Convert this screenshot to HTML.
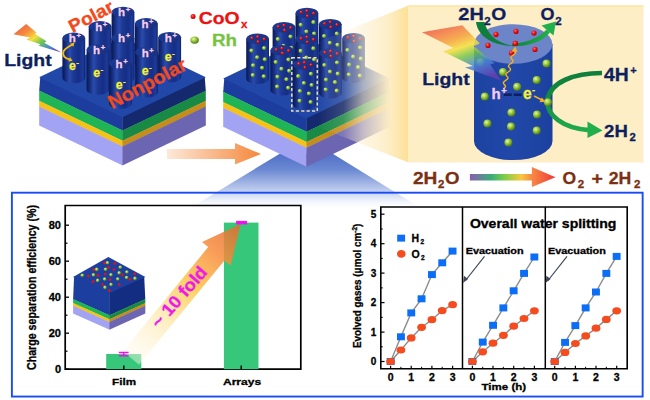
<!DOCTYPE html><html><head><meta charset="utf-8"><style>html,body{margin:0;padding:0;background:#fff;overflow:hidden}svg{display:block}</style></head><body>
<svg width="650" height="400" viewBox="0 0 650 400">

<defs>
 <linearGradient id="cylG" x1="0" x2="1" y1="0" y2="0">
  <stop offset="0" stop-color="#0a1850"/>
  <stop offset="0.12" stop-color="#142a78"/>
  <stop offset="0.32" stop-color="#2a4cae"/>
  <stop offset="0.47" stop-color="#1d3994"/>
  <stop offset="0.72" stop-color="#152e86"/>
  <stop offset="0.9" stop-color="#1d3b9a"/>
  <stop offset="1" stop-color="#102470"/>
 </linearGradient>
 <linearGradient id="cylT" x1="0" x2="1" y1="0" y2="1">
  <stop offset="0" stop-color="#1d3c96"/>
  <stop offset="1" stop-color="#17307f"/>
 </linearGradient>
 <linearGradient id="boltG1" x1="0" y1="0.1" x2="1" y2="0.9">
  <stop offset="0" stop-color="#f05a44"/>
  <stop offset="0.25" stop-color="#f58a3e"/>
  <stop offset="0.45" stop-color="#f4e040"/>
  <stop offset="0.62" stop-color="#6cc450"/>
  <stop offset="0.8" stop-color="#4a8ad8"/>
  <stop offset="1" stop-color="#6a3cb0"/>
 </linearGradient>
 <linearGradient id="boltG" x1="0.25" y1="0" x2="0.75" y2="1">
  <stop offset="0" stop-color="#f05a44"/>
  <stop offset="0.12" stop-color="#f27a46"/>
  <stop offset="0.27" stop-color="#f6a23e"/>
  <stop offset="0.42" stop-color="#f4e040"/>
  <stop offset="0.57" stop-color="#72c44e"/>
  <stop offset="0.74" stop-color="#4a8ad8"/>
  <stop offset="1" stop-color="#6a3cb0"/>
 </linearGradient>
 <linearGradient id="orArrow" x1="0" x2="1" y1="0" y2="0">
  <stop offset="0" stop-color="#fde9da"/>
  <stop offset="1" stop-color="#f5873a"/>
 </linearGradient>
 <linearGradient id="beam" gradientUnits="userSpaceOnUse" x1="0" x2="0" y1="152" y2="210">
  <stop offset="0" stop-color="#4e6ec8"/>
  <stop offset="0.3" stop-color="#6a88d2"/>
  <stop offset="0.68" stop-color="#c4d0ef"/>
  <stop offset="0.8" stop-color="#e4eaf8"/>
  <stop offset="1" stop-color="#ffffff" stop-opacity="0"/>
 </linearGradient>
 <linearGradient id="fr" gradientUnits="userSpaceOnUse" x1="318" x2="408.5" y1="0" y2="0">
  <stop offset="0" stop-color="#fdf0d0" stop-opacity="0"/>
  <stop offset="0.28" stop-color="#fdf0d0" stop-opacity="0.15"/>
  <stop offset="0.5" stop-color="#fdf0d0" stop-opacity="0.62"/>
  <stop offset="0.65" stop-color="#fdefcc" stop-opacity="0.82"/>
  <stop offset="0.77" stop-color="#fdeec6" stop-opacity="0.97"/>
  <stop offset="1" stop-color="#fde096" stop-opacity="1"/>
 </linearGradient>
 <linearGradient id="eqArrow" x1="0" x2="1" y1="0" y2="0">
  <stop offset="0" stop-color="#8a5cb2"/>
  <stop offset="0.25" stop-color="#3aae78"/>
  <stop offset="0.4" stop-color="#7ccc48"/>
  <stop offset="0.6" stop-color="#f8c840"/>
  <stop offset="0.72" stop-color="#f88a44"/>
  <stop offset="1" stop-color="#f03838"/>
 </linearGradient>
 <linearGradient id="greenArc" gradientUnits="userSpaceOnUse" x1="0" x2="0" y1="73" y2="135">
  <stop offset="0" stop-color="#0f7f3c"/>
  <stop offset="0.45" stop-color="#138c42"/>
  <stop offset="1" stop-color="#22b04e"/>
 </linearGradient>
 <linearGradient id="greenArr" x1="0" x2="1" y1="0" y2="0">
  <stop offset="0" stop-color="#0f7f3c"/>
  <stop offset="1" stop-color="#25b04c"/>
 </linearGradient>
 <linearGradient id="foldG" gradientUnits="userSpaceOnUse" x1="127" y1="357" x2="241" y2="224">
  <stop offset="0" stop-color="#fffaf0" stop-opacity="0.5"/>
  <stop offset="0.3" stop-color="#fdeab0" stop-opacity="0.9"/>
  <stop offset="0.55" stop-color="#fcc848"/>
  <stop offset="0.78" stop-color="#f88c3c"/>
  <stop offset="1" stop-color="#e06a30"/>
 </linearGradient>
 <radialGradient id="gdot" cx="0.38" cy="0.35" r="0.65">
  <stop offset="0" stop-color="#eaf8a8"/>
  <stop offset="0.45" stop-color="#9ccc40"/>
  <stop offset="1" stop-color="#4c7c16"/>
 </radialGradient>
 <radialGradient id="rdot" cx="0.38" cy="0.35" r="0.65">
  <stop offset="0" stop-color="#ff7070"/>
  <stop offset="0.5" stop-color="#f01010"/>
  <stop offset="1" stop-color="#b00000"/>
 </radialGradient>
 <linearGradient id="bigCyl" x1="0" x2="1" y1="0" y2="0">
  <stop offset="0" stop-color="#1c42a2"/>
  <stop offset="0.5" stop-color="#2148a8"/>
  <stop offset="1" stop-color="#1b40a0"/>
 </linearGradient>
</defs>

<rect width="650" height="400" fill="#ffffff"/>
<polygon points="281,153 331.5,153 424,210 187,210" fill="url(#beam)"/>
<polygon points="40.3,76.7 122.7,116.2 122.7,130.8 39.2,90.8" fill="#1c3d9e"/>
<polygon points="122.4,116.2 204.7,76.8 205.8,90.9 122.4,130.8" fill="#14296e"/>
<polygon points="39.2,90.5 122.7,130.5 122.7,141.0 39.2,101.0" fill="#1fb455"/>
<polygon points="122.4,130.5 205.8,90.6 205.8,101.1 122.4,141.0" fill="#188a46"/>
<polygon points="39.2,100.7 122.7,140.7 122.7,146.8 39.2,106.8" fill="#f7c218"/>
<polygon points="122.4,140.7 205.8,100.8 205.8,106.9 122.4,146.8" fill="#c48d1c"/>
<polygon points="39.2,106.5 122.7,146.5 122.7,165.5 39.2,125.5" fill="#a3a3f4"/>
<polygon points="122.4,146.5 205.8,106.6 205.8,125.6 122.4,165.5" fill="#6b65b2"/>
<polygon points="39.2,77.2 122.4,117.2 205.8,77.3 122.6,37.3" fill="#2148a8"/>
<path d="M111.6,12.1 L111.6,52.0 A11.4,5.3 0 0 0 134.4,52.0 L134.4,12.1 Z" fill="url(#cylG)"/>
<ellipse cx="123.0" cy="12.1" rx="11.4" ry="5.3" fill="url(#cylT)"/>
<text x="118.1" y="16.2" font-family="Liberation Sans, Arial, sans-serif" font-weight="bold" font-size="11.5" fill="#f6cdf0" stroke="#f6cdf0" stroke-width="0.3">h<tspan font-size="7.5" dx="0.6" dy="-4">+</tspan></text>
<path d="M134.9,23.4 L134.9,63.4 A11.4,5.3 0 0 0 157.8,63.4 L157.8,23.4 Z" fill="url(#cylG)"/>
<ellipse cx="146.3" cy="23.4" rx="11.4" ry="5.3" fill="url(#cylT)"/>
<text x="141.4" y="27.6" font-family="Liberation Sans, Arial, sans-serif" font-weight="bold" font-size="11.5" fill="#f6cdf0" stroke="#f6cdf0" stroke-width="0.3">h<tspan font-size="7.5" dx="0.6" dy="-4">+</tspan></text>
<path d="M88.7,26.4 L88.7,66.4 A11.4,5.3 0 0 0 111.5,66.4 L111.5,26.4 Z" fill="url(#cylG)"/>
<ellipse cx="100.1" cy="26.4" rx="11.4" ry="5.3" fill="url(#cylT)"/>
<text x="95.2" y="30.6" font-family="Liberation Sans, Arial, sans-serif" font-weight="bold" font-size="11.5" fill="#f6cdf0" stroke="#f6cdf0" stroke-width="0.3">h<tspan font-size="7.5" dx="0.6" dy="-4">+</tspan></text>
<path d="M158.2,37.3 L158.2,77.3 A11.4,5.3 0 0 0 181.1,77.3 L181.1,37.3 Z" fill="url(#cylG)"/>
<ellipse cx="169.7" cy="37.3" rx="11.4" ry="5.3" fill="url(#cylT)"/>
<text x="164.8" y="41.5" font-family="Liberation Sans, Arial, sans-serif" font-weight="bold" font-size="11.5" fill="#f6cdf0" stroke="#f6cdf0" stroke-width="0.3">h<tspan font-size="7.5" dx="0.6" dy="-4">+</tspan></text>
<text x="164.8" y="60.8" font-family="Liberation Sans, Arial, sans-serif" font-weight="bold" font-size="12.3" fill="#f6f232" stroke="#f6f232" stroke-width="0.3">e<tspan font-size="8" dx="0.4" dy="-5">-</tspan></text>
<path d="M62.4,37.9 L62.4,77.9 A11.4,5.3 0 0 0 85.2,77.9 L85.2,37.9 Z" fill="url(#cylG)"/>
<ellipse cx="73.8" cy="37.9" rx="11.4" ry="5.3" fill="url(#cylT)"/>
<text x="68.8" y="42.1" font-family="Liberation Sans, Arial, sans-serif" font-weight="bold" font-size="11.5" fill="#f6cdf0" stroke="#f6cdf0" stroke-width="0.3">h<tspan font-size="7.5" dx="0.6" dy="-4">+</tspan></text>
<text x="69.0" y="69.5" font-family="Liberation Sans, Arial, sans-serif" font-weight="bold" font-size="12.3" fill="#f6f232" stroke="#f6f232" stroke-width="0.3">e<tspan font-size="8" dx="0.4" dy="-5">-</tspan></text>
<path d="M111.5,38.2 L111.5,78.2 A11.4,5.3 0 0 0 134.3,78.2 L134.3,38.2 Z" fill="url(#cylG)"/>
<ellipse cx="122.9" cy="38.2" rx="11.4" ry="5.3" fill="url(#cylT)"/>
<text x="118.0" y="42.4" font-family="Liberation Sans, Arial, sans-serif" font-weight="bold" font-size="11.5" fill="#f6cdf0" stroke="#f6cdf0" stroke-width="0.3">h<tspan font-size="7.5" dx="0.6" dy="-4">+</tspan></text>
<path d="M86.6,49.4 L86.6,89.4 A11.4,5.3 0 0 0 109.4,89.4 L109.4,49.4 Z" fill="url(#cylG)"/>
<ellipse cx="98.0" cy="49.4" rx="11.4" ry="5.3" fill="url(#cylT)"/>
<text x="93.1" y="53.6" font-family="Liberation Sans, Arial, sans-serif" font-weight="bold" font-size="11.5" fill="#f6cdf0" stroke="#f6cdf0" stroke-width="0.3">h<tspan font-size="7.5" dx="0.6" dy="-4">+</tspan></text>
<text x="93.2" y="77.4" font-family="Liberation Sans, Arial, sans-serif" font-weight="bold" font-size="12.3" fill="#f6f232" stroke="#f6f232" stroke-width="0.3">e<tspan font-size="8" dx="0.4" dy="-5">-</tspan></text>
<path d="M135.2,52.3 L135.2,92.3 A11.4,5.3 0 0 0 158.0,92.3 L158.0,52.3 Z" fill="url(#cylG)"/>
<ellipse cx="146.6" cy="52.3" rx="11.4" ry="5.3" fill="url(#cylT)"/>
<text x="141.7" y="56.5" font-family="Liberation Sans, Arial, sans-serif" font-weight="bold" font-size="11.5" fill="#f6cdf0" stroke="#f6cdf0" stroke-width="0.3">h<tspan font-size="7.5" dx="0.6" dy="-4">+</tspan></text>
<text x="141.8" y="74.6" font-family="Liberation Sans, Arial, sans-serif" font-weight="bold" font-size="12.3" fill="#f6f232" stroke="#f6f232" stroke-width="0.3">e<tspan font-size="8" dx="0.4" dy="-5">-</tspan></text>
<path d="M109.1,63.5 L109.1,103.5 A11.4,5.3 0 0 0 131.9,103.5 L131.9,63.5 Z" fill="url(#cylG)"/>
<ellipse cx="120.5" cy="63.5" rx="11.4" ry="5.3" fill="url(#cylT)"/>
<text x="115.6" y="67.8" font-family="Liberation Sans, Arial, sans-serif" font-weight="bold" font-size="11.5" fill="#f6cdf0" stroke="#f6cdf0" stroke-width="0.3">h<tspan font-size="7.5" dx="0.6" dy="-4">+</tspan></text>
<text x="115.7" y="88.8" font-family="Liberation Sans, Arial, sans-serif" font-weight="bold" font-size="12.3" fill="#f6f232" stroke="#f6f232" stroke-width="0.3">e<tspan font-size="8" dx="0.4" dy="-5">-</tspan></text>
<path d="M72.2,44.8 C67.5,47 63.2,49.5 63.2,53.2 C63.2,57 66.5,58.6 69.6,59.4" fill="none" stroke="#f6be0a" stroke-width="1.8"/>
<path d="M74.4,42.5 L73.4,46.8 L70.1,43.7 Z" fill="#f6be0a"/>
<path d="M72.6,60.7 L68.2,61.6 L69.9,57.2 Z" fill="#f6be0a"/>
<text x="0" y="0" font-family="Liberation Sans, Arial, sans-serif" font-weight="bold" font-size="18" fill="#f24a1c" stroke="#f24a1c" stroke-width="0.3" textLength="48" lengthAdjust="spacingAndGlyphs" transform="translate(72.6,33) rotate(-27.5)">Polar</text>
<text x="0" y="0" font-family="Liberation Sans, Arial, sans-serif" font-weight="bold" font-size="19" fill="#f24a1c" stroke="#f24a1c" stroke-width="0.3" textLength="86" lengthAdjust="spacingAndGlyphs" transform="translate(112.3,109.3) rotate(-28)">Nonpolar</text>
<polygon points="13.5,34.2 26.2,24.0 36.7,32.7 34.8,33.7 46.5,41.2 44.2,42.7 61.5,52.5 38.7,45.7 40.5,44.2 26.7,39.7 30.0,37.5" fill="url(#boltG1)"/>
<text x="4.2" y="66.3" font-family="Liberation Sans, Arial, sans-serif" font-weight="bold" font-size="16.5" fill="#0e1f5e" stroke="#0e1f5e" stroke-width="0.3" textLength="47.5" lengthAdjust="spacingAndGlyphs">Light</text>
<polygon points="167,149 235,149 235,143 261,154 235,164.5 235,159 167,159" fill="url(#orArrow)"/>
<circle cx="193.1" cy="16.6" r="2.5" fill="url(#rdot)"/>
<text x="198.7" y="23.6" font-family="Liberation Sans, Arial, sans-serif" font-weight="bold" font-size="17" fill="#ec1212" stroke="#ec1212" stroke-width="0.3"><tspan textLength="40.9" lengthAdjust="spacingAndGlyphs">CoO</tspan><tspan font-size="11.5" dx="1.5" dy="3.9">x</tspan></text>
<ellipse cx="194.6" cy="40.1" rx="4.3" ry="3.6" fill="url(#gdot)"/>
<text x="212" y="45.7" font-family="Liberation Sans, Arial, sans-serif" font-weight="bold" font-size="16" fill="#76c442" stroke="#76c442" stroke-width="0.3" textLength="25" lengthAdjust="spacingAndGlyphs">Rh</text>
<polygon points="224.3,77.9 306.7,117.4 306.7,132.0 223.2,92.0" fill="#1c3d9e"/>
<polygon points="306.4,117.4 388.7,78.0 389.8,92.1 306.4,132.0" fill="#14296e"/>
<polygon points="223.2,91.7 306.7,131.7 306.7,142.2 223.2,102.2" fill="#1fb455"/>
<polygon points="306.4,131.7 389.8,91.8 389.8,102.3 306.4,142.2" fill="#188a46"/>
<polygon points="223.2,101.9 306.7,141.9 306.7,148.0 223.2,108.0" fill="#f7c218"/>
<polygon points="306.4,141.9 389.8,102.0 389.8,108.1 306.4,148.0" fill="#c48d1c"/>
<polygon points="223.2,107.7 306.7,147.7 306.7,166.7 223.2,126.7" fill="#a3a3f4"/>
<polygon points="306.4,147.7 389.8,107.8 389.8,126.8 306.4,166.7" fill="#6b65b2"/>
<polygon points="223.2,78.4 306.4,118.4 389.8,78.5 306.6,38.5" fill="#2148a8"/>
<path d="M295.5,13.0 L295.5,53.0 A11.4,5.3 0 0 0 318.3,53.0 L318.3,13.0 Z" fill="url(#cylG)"/>
<ellipse cx="306.9" cy="13.0" rx="11.4" ry="5.3" fill="url(#cylT)"/>
<circle cx="301.2" cy="12.2" r="1.6" fill="url(#rdot)"/>
<circle cx="306.9" cy="10.9" r="1.6" fill="url(#rdot)"/>
<circle cx="313.5" cy="13.3" r="1.6" fill="url(#rdot)"/>
<circle cx="307.4" cy="15.9" r="1.6" fill="url(#rdot)"/>
<circle cx="300.7" cy="24.8" r="2.1" fill="url(#gdot)"/>
<circle cx="313.4" cy="22.2" r="2.1" fill="url(#gdot)"/>
<circle cx="306.4" cy="31.5" r="2.1" fill="url(#gdot)"/>
<circle cx="314.1" cy="33.5" r="2.1" fill="url(#gdot)"/>
<circle cx="302.4" cy="39.5" r="2.1" fill="url(#gdot)"/>
<circle cx="311.4" cy="42.0" r="2.1" fill="url(#gdot)"/>
<circle cx="302.1" cy="49.2" r="2.1" fill="url(#gdot)"/>
<circle cx="313.1" cy="50.5" r="2.1" fill="url(#gdot)"/>
<path d="M318.9,24.2 L318.9,64.2 A11.4,5.3 0 0 0 341.6,64.2 L341.6,24.2 Z" fill="url(#cylG)"/>
<ellipse cx="330.2" cy="24.2" rx="11.4" ry="5.3" fill="url(#cylT)"/>
<circle cx="324.6" cy="23.5" r="1.6" fill="url(#rdot)"/>
<circle cx="330.2" cy="22.1" r="1.6" fill="url(#rdot)"/>
<circle cx="336.9" cy="24.6" r="1.6" fill="url(#rdot)"/>
<circle cx="330.8" cy="27.1" r="1.6" fill="url(#rdot)"/>
<circle cx="324.1" cy="36.0" r="2.1" fill="url(#gdot)"/>
<circle cx="336.8" cy="33.5" r="2.1" fill="url(#gdot)"/>
<circle cx="329.8" cy="42.8" r="2.1" fill="url(#gdot)"/>
<circle cx="337.4" cy="44.8" r="2.1" fill="url(#gdot)"/>
<circle cx="325.8" cy="50.8" r="2.1" fill="url(#gdot)"/>
<circle cx="334.8" cy="53.2" r="2.1" fill="url(#gdot)"/>
<circle cx="325.4" cy="60.5" r="2.1" fill="url(#gdot)"/>
<circle cx="336.4" cy="61.8" r="2.1" fill="url(#gdot)"/>
<path d="M272.6,27.3 L272.6,67.3 A11.4,5.3 0 0 0 295.4,67.3 L295.4,27.3 Z" fill="url(#cylG)"/>
<ellipse cx="284.0" cy="27.3" rx="11.4" ry="5.3" fill="url(#cylT)"/>
<circle cx="278.3" cy="26.5" r="1.6" fill="url(#rdot)"/>
<circle cx="284.0" cy="25.2" r="1.6" fill="url(#rdot)"/>
<circle cx="290.6" cy="27.6" r="1.6" fill="url(#rdot)"/>
<circle cx="284.5" cy="30.2" r="1.6" fill="url(#rdot)"/>
<circle cx="277.8" cy="39.1" r="2.1" fill="url(#gdot)"/>
<circle cx="290.5" cy="36.6" r="2.1" fill="url(#gdot)"/>
<circle cx="283.5" cy="45.8" r="2.1" fill="url(#gdot)"/>
<circle cx="291.2" cy="47.8" r="2.1" fill="url(#gdot)"/>
<circle cx="279.5" cy="53.8" r="2.1" fill="url(#gdot)"/>
<circle cx="288.5" cy="56.3" r="2.1" fill="url(#gdot)"/>
<circle cx="279.2" cy="63.6" r="2.1" fill="url(#gdot)"/>
<circle cx="290.2" cy="64.8" r="2.1" fill="url(#gdot)"/>
<path d="M342.2,38.2 L342.2,78.2 A11.4,5.3 0 0 0 364.9,78.2 L364.9,38.2 Z" fill="url(#cylG)"/>
<ellipse cx="353.6" cy="38.2" rx="11.4" ry="5.3" fill="url(#cylT)"/>
<circle cx="347.9" cy="37.4" r="1.6" fill="url(#rdot)"/>
<circle cx="353.6" cy="36.1" r="1.6" fill="url(#rdot)"/>
<circle cx="360.2" cy="38.5" r="1.6" fill="url(#rdot)"/>
<circle cx="354.1" cy="41.1" r="1.6" fill="url(#rdot)"/>
<circle cx="347.4" cy="50.0" r="2.1" fill="url(#gdot)"/>
<circle cx="360.1" cy="47.5" r="2.1" fill="url(#gdot)"/>
<circle cx="353.1" cy="56.7" r="2.1" fill="url(#gdot)"/>
<circle cx="360.8" cy="58.7" r="2.1" fill="url(#gdot)"/>
<circle cx="349.1" cy="64.7" r="2.1" fill="url(#gdot)"/>
<circle cx="358.1" cy="67.2" r="2.1" fill="url(#gdot)"/>
<circle cx="348.8" cy="74.5" r="2.1" fill="url(#gdot)"/>
<circle cx="359.8" cy="75.7" r="2.1" fill="url(#gdot)"/>
<path d="M246.2,38.8 L246.2,78.8 A11.4,5.3 0 0 0 269.0,78.8 L269.0,38.8 Z" fill="url(#cylG)"/>
<ellipse cx="257.6" cy="38.8" rx="11.4" ry="5.3" fill="url(#cylT)"/>
<circle cx="251.9" cy="38.0" r="1.6" fill="url(#rdot)"/>
<circle cx="257.6" cy="36.7" r="1.6" fill="url(#rdot)"/>
<circle cx="264.2" cy="39.1" r="1.6" fill="url(#rdot)"/>
<circle cx="258.1" cy="41.7" r="1.6" fill="url(#rdot)"/>
<circle cx="251.4" cy="50.6" r="2.1" fill="url(#gdot)"/>
<circle cx="264.1" cy="48.1" r="2.1" fill="url(#gdot)"/>
<circle cx="257.1" cy="57.3" r="2.1" fill="url(#gdot)"/>
<circle cx="264.8" cy="59.3" r="2.1" fill="url(#gdot)"/>
<circle cx="253.1" cy="65.3" r="2.1" fill="url(#gdot)"/>
<circle cx="262.1" cy="67.8" r="2.1" fill="url(#gdot)"/>
<circle cx="252.8" cy="75.1" r="2.1" fill="url(#gdot)"/>
<circle cx="263.8" cy="76.3" r="2.1" fill="url(#gdot)"/>
<path d="M295.4,39.1 L295.4,79.1 A11.4,5.3 0 0 0 318.2,79.1 L318.2,39.1 Z" fill="url(#cylG)"/>
<ellipse cx="306.8" cy="39.1" rx="11.4" ry="5.3" fill="url(#cylT)"/>
<circle cx="301.1" cy="38.4" r="1.6" fill="url(#rdot)"/>
<circle cx="306.8" cy="37.0" r="1.6" fill="url(#rdot)"/>
<circle cx="313.4" cy="39.4" r="1.6" fill="url(#rdot)"/>
<circle cx="307.3" cy="42.0" r="1.6" fill="url(#rdot)"/>
<circle cx="300.6" cy="50.9" r="2.1" fill="url(#gdot)"/>
<circle cx="313.3" cy="48.4" r="2.1" fill="url(#gdot)"/>
<circle cx="306.3" cy="57.6" r="2.1" fill="url(#gdot)"/>
<circle cx="314.0" cy="59.6" r="2.1" fill="url(#gdot)"/>
<circle cx="302.3" cy="65.6" r="2.1" fill="url(#gdot)"/>
<circle cx="311.3" cy="68.1" r="2.1" fill="url(#gdot)"/>
<circle cx="302.0" cy="75.4" r="2.1" fill="url(#gdot)"/>
<circle cx="313.0" cy="76.6" r="2.1" fill="url(#gdot)"/>
<path d="M270.5,50.3 L270.5,90.3 A11.4,5.3 0 0 0 293.3,90.3 L293.3,50.3 Z" fill="url(#cylG)"/>
<ellipse cx="281.9" cy="50.3" rx="11.4" ry="5.3" fill="url(#cylT)"/>
<circle cx="276.2" cy="49.5" r="1.6" fill="url(#rdot)"/>
<circle cx="281.9" cy="48.2" r="1.6" fill="url(#rdot)"/>
<circle cx="288.5" cy="50.6" r="1.6" fill="url(#rdot)"/>
<circle cx="282.4" cy="53.2" r="1.6" fill="url(#rdot)"/>
<circle cx="275.7" cy="62.1" r="2.1" fill="url(#gdot)"/>
<circle cx="288.4" cy="59.6" r="2.1" fill="url(#gdot)"/>
<circle cx="281.4" cy="68.8" r="2.1" fill="url(#gdot)"/>
<circle cx="289.1" cy="70.8" r="2.1" fill="url(#gdot)"/>
<circle cx="277.4" cy="76.8" r="2.1" fill="url(#gdot)"/>
<circle cx="286.4" cy="79.3" r="2.1" fill="url(#gdot)"/>
<circle cx="277.1" cy="86.6" r="2.1" fill="url(#gdot)"/>
<circle cx="288.1" cy="87.8" r="2.1" fill="url(#gdot)"/>
<path d="M319.1,53.2 L319.1,93.2 A11.4,5.3 0 0 0 341.9,93.2 L341.9,53.2 Z" fill="url(#cylG)"/>
<ellipse cx="330.5" cy="53.2" rx="11.4" ry="5.3" fill="url(#cylT)"/>
<circle cx="324.8" cy="52.4" r="1.6" fill="url(#rdot)"/>
<circle cx="330.5" cy="51.1" r="1.6" fill="url(#rdot)"/>
<circle cx="337.1" cy="53.5" r="1.6" fill="url(#rdot)"/>
<circle cx="331.0" cy="56.1" r="1.6" fill="url(#rdot)"/>
<circle cx="324.3" cy="65.0" r="2.1" fill="url(#gdot)"/>
<circle cx="337.0" cy="62.5" r="2.1" fill="url(#gdot)"/>
<circle cx="330.0" cy="71.7" r="2.1" fill="url(#gdot)"/>
<circle cx="337.7" cy="73.7" r="2.1" fill="url(#gdot)"/>
<circle cx="326.0" cy="79.7" r="2.1" fill="url(#gdot)"/>
<circle cx="335.0" cy="82.2" r="2.1" fill="url(#gdot)"/>
<circle cx="325.7" cy="89.5" r="2.1" fill="url(#gdot)"/>
<circle cx="336.7" cy="90.7" r="2.1" fill="url(#gdot)"/>
<path d="M293.0,64.5 L293.0,104.5 A11.4,5.3 0 0 0 315.8,104.5 L315.8,64.5 Z" fill="url(#cylG)"/>
<ellipse cx="304.4" cy="64.5" rx="11.4" ry="5.3" fill="url(#cylT)"/>
<circle cx="298.7" cy="63.7" r="1.6" fill="url(#rdot)"/>
<circle cx="304.4" cy="62.4" r="1.6" fill="url(#rdot)"/>
<circle cx="311.0" cy="64.8" r="1.6" fill="url(#rdot)"/>
<circle cx="304.9" cy="67.4" r="1.6" fill="url(#rdot)"/>
<circle cx="298.2" cy="76.2" r="2.1" fill="url(#gdot)"/>
<circle cx="310.9" cy="73.8" r="2.1" fill="url(#gdot)"/>
<circle cx="303.9" cy="83.0" r="2.1" fill="url(#gdot)"/>
<circle cx="311.6" cy="85.0" r="2.1" fill="url(#gdot)"/>
<circle cx="299.9" cy="91.0" r="2.1" fill="url(#gdot)"/>
<circle cx="308.9" cy="93.5" r="2.1" fill="url(#gdot)"/>
<circle cx="299.6" cy="100.8" r="2.1" fill="url(#gdot)"/>
<circle cx="310.6" cy="102.0" r="2.1" fill="url(#gdot)"/>
<rect x="291.8" y="57.7" width="25.5" height="53.4" fill="none" stroke="#efdcaa" stroke-width="1.5" stroke-dasharray="3.2,2.2"/>
<polygon points="318,42 408.5,5.5 408.5,162.5 318,127" fill="url(#fr)"/>
<rect x="408.5" y="5.5" width="235" height="157" fill="#fdeec6"/>
<line x1="408.5" y1="6" x2="643.5" y2="6" stroke="#fde08c" stroke-width="1"/>
<path d="M474,44 L474,141 A39,19 0 0 0 552.5,141 L552.5,44 Z" fill="url(#bigCyl)"/>
<ellipse cx="513.2" cy="44" rx="39.2" ry="19.8" fill="#6c84c8"/>
<path d="M602,73 C574,73 550.5,82 547.3,100 C546.5,115 562,128 589,130.2" fill="none" stroke="url(#greenArc)" stroke-width="4.7"/>
<path d="M587.5,121.5 L602.5,130.6 L587.5,138 Z" fill="#22ae4c"/>
<circle cx="496" cy="34.4" r="2.6" fill="url(#rdot)"/>
<circle cx="516" cy="31.4" r="2.6" fill="url(#rdot)"/>
<circle cx="534" cy="33" r="2.6" fill="url(#rdot)"/>
<circle cx="488" cy="45.4" r="2.6" fill="url(#rdot)"/>
<circle cx="515.4" cy="43.4" r="2.6" fill="url(#rdot)"/>
<circle cx="535" cy="49.4" r="2.6" fill="url(#rdot)"/>
<circle cx="511.4" cy="53" r="2.6" fill="url(#rdot)"/>
<circle cx="480.5" cy="62" r="4" fill="url(#gdot)"/>
<circle cx="546.5" cy="63.5" r="4" fill="url(#gdot)"/>
<circle cx="503" cy="72" r="4" fill="url(#gdot)"/>
<circle cx="536.7" cy="80" r="4" fill="url(#gdot)"/>
<circle cx="517.1" cy="86.8" r="4" fill="url(#gdot)"/>
<circle cx="484.8" cy="96.6" r="4" fill="url(#gdot)"/>
<circle cx="547.9" cy="102.2" r="4" fill="url(#gdot)"/>
<circle cx="511.4" cy="112.5" r="4" fill="url(#gdot)"/>
<circle cx="537" cy="114.5" r="4" fill="url(#gdot)"/>
<circle cx="487.4" cy="123.5" r="4" fill="url(#gdot)"/>
<circle cx="511" cy="126.5" r="4" fill="url(#gdot)"/>
<circle cx="536.7" cy="130.5" r="4" fill="url(#gdot)"/>
<circle cx="508.4" cy="142.5" r="4" fill="url(#gdot)"/>
<path d="M514.5,51 Q517.1,53.1 513.2,55.2 Q509.4,57.3 512.0,59.4 Q514.6,61.5 510.7,63.6 Q506.9,65.7 509.5,67.8 Q512.0,69.9 508.2,72.0 Q504.4,74.1 506.9,76.2 Q509.5,78.3 505.7,80.4 Q501.9,82.5 504.4,84.6 Q507.0,86.7 503.2,88.8" fill="none" stroke="#f5b020" stroke-width="1.4"/>
<path d="M511.6,51.5 L515.2,46.5 L517.6,52 Z" fill="#f5b020"/>
<text x="491.5" y="99.1" font-family="Liberation Sans, Arial, sans-serif" font-weight="bold" font-size="15" fill="#f6cdf0" stroke="#f6cdf0" stroke-width="0.3">h<tspan font-size="9.5" dx="0.5" dy="-5.5">+</tspan></text>
<path d="M503.8,94.8 H511.8 M513.7,94.8 H521.7" stroke="#0e1f5e" stroke-width="2.4"/>
<text x="522.9" y="99.1" font-family="Liberation Sans, Arial, sans-serif" font-weight="bold" font-size="15.6" fill="#f6f232" stroke="#f6f232" stroke-width="0.3">e<tspan font-size="9" dx="0.4" dy="-6">-</tspan></text>
<line x1="534" y1="96" x2="542" y2="100" stroke="#f5b020" stroke-width="1.4"/>
<path d="M545.5,101.8 L539.5,102.2 L541.8,97.5 Z" fill="#f5b020"/>
<polygon points="422.0,32.3 462.3,25.3 479.8,43.6 473.7,46.3 494.7,62.9 490.3,64.6 500.8,80.4 464.9,67.6 472.8,65.9 443.0,51.5 453.5,48.0" fill="url(#boltG)" opacity="0.85"/>
<text x="422.2" y="84.8" font-family="Liberation Sans, Arial, sans-serif" font-weight="bold" font-size="16.5" fill="#0e1f5e" stroke="#0e1f5e" stroke-width="0.3" textLength="47.5" lengthAdjust="spacingAndGlyphs">Light</text>
<path d="M476,22 C478,37 493,45.5 515,46.3 C497,43.5 487.5,35 484.5,22 Z" fill="#0f7e3c"/>
<path d="M512,46.3 Q538,46.5 550,32.5 L546.5,29.5 Q535,42 512,43.8 Z" fill="url(#greenArr)"/>
<path d="M541.5,25.5 L556,21.5 L553.5,35.5 Z" fill="#22b04e"/>
<circle cx="515.4" cy="43.4" r="2.6" fill="url(#rdot)"/>
<text x="458.3" y="20.3" font-family="Liberation Sans, Arial, sans-serif" font-weight="bold" font-size="16.5" fill="#0e1f5e" stroke="#0e1f5e" stroke-width="0.3"><tspan textLength="25.5" lengthAdjust="spacingAndGlyphs">2H</tspan><tspan font-size="11.5" dx="0.5" dy="4.3">2</tspan><tspan dx="0.5" dy="-4.3" textLength="15" lengthAdjust="spacingAndGlyphs">O</tspan></text>
<text x="540.5" y="20.3" font-family="Liberation Sans, Arial, sans-serif" font-weight="bold" font-size="16.5" fill="#0e1f5e" stroke="#0e1f5e" stroke-width="0.3"><tspan textLength="14" lengthAdjust="spacingAndGlyphs">O</tspan><tspan font-size="11.5" dx="0.8" dy="4.3">2</tspan></text>
<text x="604.1" y="80.6" font-family="Liberation Sans, Arial, sans-serif" font-weight="bold" font-size="17.5" fill="#0e1f5e" stroke="#0e1f5e" stroke-width="0.3"><tspan textLength="24.7" lengthAdjust="spacingAndGlyphs">4H</tspan><tspan font-size="11" dx="1.5" dy="-6.5">+</tspan></text>
<text x="604.1" y="136.6" font-family="Liberation Sans, Arial, sans-serif" font-weight="bold" font-size="17" fill="#0e1f5e" stroke="#0e1f5e" stroke-width="0.3"><tspan textLength="23.7" lengthAdjust="spacingAndGlyphs">2H</tspan><tspan font-size="11.3" dx="1.6" dy="4.1">2</tspan></text>
<text x="413" y="183.8" font-family="Liberation Sans, Arial, sans-serif" font-weight="bold" font-size="17.3" fill="#7b3012" stroke="#7b3012" stroke-width="0.3"><tspan textLength="24.4" lengthAdjust="spacingAndGlyphs">2H</tspan><tspan font-size="11.5" dx="0.6" dy="4">2</tspan><tspan dx="0.6" dy="-4" textLength="14.5" lengthAdjust="spacingAndGlyphs">O</tspan></text>
<polygon points="469.9,174 531.9,174 531.9,166.9 555.5,177.2 531.9,186.9 531.9,180.5 469.9,180.5" fill="url(#eqArrow)"/>
<text x="562.6" y="183.6" font-family="Liberation Sans, Arial, sans-serif" font-weight="bold" font-size="17.3" fill="#7b3012" stroke="#7b3012" stroke-width="0.3"><tspan textLength="13.6" lengthAdjust="spacingAndGlyphs">O</tspan><tspan x="577.8" y="187.7" font-size="11.5">2</tspan><tspan x="591.4" y="183.6" textLength="11.4" lengthAdjust="spacingAndGlyphs">+</tspan><tspan x="608.7" y="183.6" textLength="22.6" lengthAdjust="spacingAndGlyphs">2H</tspan><tspan x="634" y="187.7" font-size="11.5">2</tspan></text>
<rect x="11.9" y="192.7" width="630.75" height="203.85" fill="none" stroke="#1a4cf4" stroke-width="1.9"/>
<path d="M65.2,205.5 H300.8 V369.2 H65.2 Z" fill="none" stroke="#000" stroke-width="1.7"/>
<line x1="65.2" y1="369.2" x2="69" y2="369.2" stroke="#000" stroke-width="1.3"/>
<text x="61" y="373.0" font-family="Liberation Sans, Arial, sans-serif" font-weight="bold" font-size="11" text-anchor="end" fill="#000" stroke="#000" stroke-width="0.3">0</text>
<line x1="65.2" y1="333.2" x2="69" y2="333.2" stroke="#000" stroke-width="1.3"/>
<text x="61" y="337.0" font-family="Liberation Sans, Arial, sans-serif" font-weight="bold" font-size="11" text-anchor="end" fill="#000" stroke="#000" stroke-width="0.3">20</text>
<line x1="65.2" y1="297.2" x2="69" y2="297.2" stroke="#000" stroke-width="1.3"/>
<text x="61" y="301.0" font-family="Liberation Sans, Arial, sans-serif" font-weight="bold" font-size="11" text-anchor="end" fill="#000" stroke="#000" stroke-width="0.3">40</text>
<line x1="65.2" y1="261.2" x2="69" y2="261.2" stroke="#000" stroke-width="1.3"/>
<text x="61" y="265.0" font-family="Liberation Sans, Arial, sans-serif" font-weight="bold" font-size="11" text-anchor="end" fill="#000" stroke="#000" stroke-width="0.3">60</text>
<line x1="65.2" y1="225.2" x2="69" y2="225.2" stroke="#000" stroke-width="1.3"/>
<text x="61" y="229.0" font-family="Liberation Sans, Arial, sans-serif" font-weight="bold" font-size="11" text-anchor="end" fill="#000" stroke="#000" stroke-width="0.3">80</text>
<line x1="65.2" y1="351.2" x2="67.5" y2="351.2" stroke="#000" stroke-width="1.2"/>
<line x1="65.2" y1="315.2" x2="67.5" y2="315.2" stroke="#000" stroke-width="1.2"/>
<line x1="65.2" y1="279.2" x2="67.5" y2="279.2" stroke="#000" stroke-width="1.2"/>
<line x1="65.2" y1="243.2" x2="67.5" y2="243.2" stroke="#000" stroke-width="1.2"/>
<text x="0" y="0" font-family="Liberation Sans, Arial, sans-serif" font-weight="bold" font-size="12.2" fill="#000" stroke="#000" stroke-width="0.3" textLength="165" lengthAdjust="spacingAndGlyphs" transform="translate(36.3,370) rotate(-90)">Charge separation efficiency (%)</text>
<rect x="106.2" y="354" width="35.1" height="15.2" fill="#37c77a"/>
<rect x="223.9" y="222.6" width="34.6" height="146.6" fill="#37c77a"/>
<line x1="123.8" y1="369.2" x2="123.8" y2="365.5" stroke="#000" stroke-width="1.4"/>
<line x1="241.2" y1="369.2" x2="241.2" y2="365.5" stroke="#000" stroke-width="1.4"/>
<text x="112.1" y="385.1" font-family="Liberation Sans, Arial, sans-serif" font-weight="bold" font-size="9.8" fill="#000" stroke="#000" stroke-width="0.3" textLength="24" lengthAdjust="spacingAndGlyphs">Film</text>
<text x="223" y="384.6" font-family="Liberation Sans, Arial, sans-serif" font-weight="bold" font-size="9.8" fill="#000" stroke="#000" stroke-width="0.3" textLength="38.1" lengthAdjust="spacingAndGlyphs">Arrays</text>
<polygon points="74.1,276.4 109.6,292.2 109.6,315.5 73.1,299.3" fill="#1c3e9e"/>
<polygon points="109.3,292.2 144.2,276.4 145.3,299.3 109.3,315.5" fill="#132e80"/>
<polygon points="73.1,299.0 109.6,315.2 109.6,319.5 73.1,303.3" fill="#1fb455"/>
<polygon points="109.3,315.2 145.3,299.0 145.3,303.3 109.3,319.5" fill="#188a46"/>
<polygon points="73.1,303.0 109.6,319.2 109.6,322.3 73.1,306.1" fill="#f7c218"/>
<polygon points="109.3,319.2 145.3,303.0 145.3,306.1 109.3,322.3" fill="#c48d1c"/>
<polygon points="73.1,305.8 109.6,322.0 109.6,329.8 73.1,313.6" fill="#a3a3f4"/>
<polygon points="109.3,322.0 145.3,305.8 145.3,313.6 109.3,329.8" fill="#6b65b2"/>
<polygon points="73.1,277.0 109.3,293.2 145.3,277.0 108.4,257.0" fill="#1e3fa0"/>
<circle cx="88.4" cy="276" r="1.35" fill="#e81010"/>
<circle cx="93.9" cy="269.6" r="1.35" fill="#e81010"/>
<circle cx="97.9" cy="275.3" r="1.35" fill="#e81010"/>
<circle cx="93.1" cy="281.7" r="1.35" fill="#e81010"/>
<circle cx="104.5" cy="262.8" r="1.35" fill="#e81010"/>
<circle cx="108.5" cy="267.4" r="1.35" fill="#e81010"/>
<circle cx="105.2" cy="274" r="1.35" fill="#e81010"/>
<circle cx="110" cy="279.7" r="1.35" fill="#e81010"/>
<circle cx="102.7" cy="284.5" r="1.35" fill="#e81010"/>
<circle cx="109.3" cy="290.7" r="1.35" fill="#e81010"/>
<circle cx="114.8" cy="263.6" r="1.35" fill="#e81010"/>
<circle cx="113.9" cy="269.6" r="1.35" fill="#e81010"/>
<circle cx="122.2" cy="274.9" r="1.35" fill="#e81010"/>
<circle cx="134.6" cy="273.8" r="1.35" fill="#e81010"/>
<circle cx="129.9" cy="279.3" r="1.35" fill="#e81010"/>
<circle cx="119.2" cy="284.5" r="1.35" fill="#e81010"/>
<circle cx="82.3" cy="275.3" r="1.8" fill="url(#gdot)"/>
<circle cx="96.8" cy="269.4" r="1.8" fill="url(#gdot)"/>
<circle cx="93.5" cy="274.9" r="1.8" fill="url(#gdot)"/>
<circle cx="97.7" cy="280.4" r="1.8" fill="url(#gdot)"/>
<circle cx="107.5" cy="262.7" r="1.8" fill="url(#gdot)"/>
<circle cx="105.6" cy="269.3" r="1.8" fill="url(#gdot)"/>
<circle cx="104.7" cy="279.1" r="1.8" fill="url(#gdot)"/>
<circle cx="111" cy="274.7" r="1.8" fill="url(#gdot)"/>
<circle cx="111.1" cy="284.5" r="1.8" fill="url(#gdot)"/>
<circle cx="105" cy="287.4" r="1.8" fill="url(#gdot)"/>
<circle cx="120.3" cy="267.2" r="1.8" fill="url(#gdot)"/>
<circle cx="119.2" cy="272.9" r="1.8" fill="url(#gdot)"/>
<circle cx="126.9" cy="272" r="1.8" fill="url(#gdot)"/>
<circle cx="117.8" cy="279" r="1.8" fill="url(#gdot)"/>
<circle cx="126.6" cy="277.5" r="1.8" fill="url(#gdot)"/>
<circle cx="135" cy="278.4" r="1.8" fill="url(#gdot)"/>
<polygon points="139.1,364.7 224.4,260.4 230.6,265.5 240.7,224.0 202.0,242.1 208.2,247.1 122.9,351.3" fill="url(#foldG)" opacity="0.85"/>
<text x="0" y="0" font-family="Liberation Sans, Arial, sans-serif" font-weight="bold" font-size="17.5" fill="#f018e8" stroke="#f018e8" stroke-width="0.3" text-anchor="middle" textLength="75" lengthAdjust="spacingAndGlyphs" transform="translate(183.5,301) rotate(-49)">~ 10 fold</text>
<rect x="236.1" y="220.9" width="11" height="3.5" fill="#f010f0"/>
<path d="M118.8,352.5 H128.6 M118.8,355.8 H128.6 M123.7,352.5 V355.8" stroke="#f010f0" stroke-width="1.4"/>
<path d="M380.8,207 H627.2 V368.8 H380.8 Z" fill="none" stroke="#000" stroke-width="1.6"/>
<line x1="462.5" y1="207" x2="462.5" y2="368.8" stroke="#000" stroke-width="1.5"/>
<line x1="545.3" y1="207" x2="545.3" y2="368.8" stroke="#000" stroke-width="1.5"/>
<line x1="380.8" y1="361.5" x2="384.5" y2="361.5" stroke="#000" stroke-width="1.2"/>
<text x="376.2" y="365.1" font-family="Liberation Sans, Arial, sans-serif" font-weight="bold" font-size="10" text-anchor="end" fill="#000" stroke="#000" stroke-width="0.3">0</text>
<line x1="380.8" y1="346.8" x2="382.8" y2="346.8" stroke="#000" stroke-width="1"/>
<line x1="380.8" y1="332.1" x2="384.5" y2="332.1" stroke="#000" stroke-width="1.2"/>
<text x="376.2" y="335.7" font-family="Liberation Sans, Arial, sans-serif" font-weight="bold" font-size="10" text-anchor="end" fill="#000" stroke="#000" stroke-width="0.3">1</text>
<line x1="380.8" y1="317.3" x2="382.8" y2="317.3" stroke="#000" stroke-width="1"/>
<line x1="380.8" y1="302.6" x2="384.5" y2="302.6" stroke="#000" stroke-width="1.2"/>
<text x="376.2" y="306.2" font-family="Liberation Sans, Arial, sans-serif" font-weight="bold" font-size="10" text-anchor="end" fill="#000" stroke="#000" stroke-width="0.3">2</text>
<line x1="380.8" y1="287.9" x2="382.8" y2="287.9" stroke="#000" stroke-width="1"/>
<line x1="380.8" y1="273.1" x2="384.5" y2="273.1" stroke="#000" stroke-width="1.2"/>
<text x="376.2" y="276.8" font-family="Liberation Sans, Arial, sans-serif" font-weight="bold" font-size="10" text-anchor="end" fill="#000" stroke="#000" stroke-width="0.3">3</text>
<line x1="380.8" y1="258.4" x2="382.8" y2="258.4" stroke="#000" stroke-width="1"/>
<line x1="380.8" y1="243.7" x2="384.5" y2="243.7" stroke="#000" stroke-width="1.2"/>
<text x="376.2" y="247.3" font-family="Liberation Sans, Arial, sans-serif" font-weight="bold" font-size="10" text-anchor="end" fill="#000" stroke="#000" stroke-width="0.3">4</text>
<line x1="380.8" y1="229.0" x2="382.8" y2="229.0" stroke="#000" stroke-width="1"/>
<line x1="380.8" y1="214.2" x2="384.5" y2="214.2" stroke="#000" stroke-width="1.2"/>
<text x="376.2" y="217.8" font-family="Liberation Sans, Arial, sans-serif" font-weight="bold" font-size="10" text-anchor="end" fill="#000" stroke="#000" stroke-width="0.3">5</text>
<text x="0" y="0" font-family="Liberation Sans, Arial, sans-serif" font-weight="bold" font-size="10" fill="#000" stroke="#000" stroke-width="0.3" textLength="124.4" lengthAdjust="spacingAndGlyphs" transform="translate(361,348.1) rotate(-90)">Evolved gases (μmol cm<tspan font-size="6.5" dy="-4">-2</tspan><tspan dy="4">)</tspan></text>
<line x1="390.6" y1="368.8" x2="390.6" y2="365.8" stroke="#000" stroke-width="1.2"/>
<text x="390.6" y="380.6" font-family="Liberation Sans, Arial, sans-serif" font-weight="bold" font-size="10.5" text-anchor="middle" fill="#000" stroke="#000" stroke-width="0.3">0</text>
<line x1="400.9" y1="368.8" x2="400.9" y2="366.8" stroke="#000" stroke-width="1"/>
<line x1="411.2" y1="368.8" x2="411.2" y2="365.8" stroke="#000" stroke-width="1.2"/>
<text x="411.2" y="380.6" font-family="Liberation Sans, Arial, sans-serif" font-weight="bold" font-size="10.5" text-anchor="middle" fill="#000" stroke="#000" stroke-width="0.3">1</text>
<line x1="421.6" y1="368.8" x2="421.6" y2="366.8" stroke="#000" stroke-width="1"/>
<line x1="431.9" y1="368.8" x2="431.9" y2="365.8" stroke="#000" stroke-width="1.2"/>
<text x="431.9" y="380.6" font-family="Liberation Sans, Arial, sans-serif" font-weight="bold" font-size="10.5" text-anchor="middle" fill="#000" stroke="#000" stroke-width="0.3">2</text>
<line x1="442.2" y1="368.8" x2="442.2" y2="366.8" stroke="#000" stroke-width="1"/>
<line x1="452.6" y1="368.8" x2="452.6" y2="365.8" stroke="#000" stroke-width="1.2"/>
<text x="452.6" y="380.6" font-family="Liberation Sans, Arial, sans-serif" font-weight="bold" font-size="10.5" text-anchor="middle" fill="#000" stroke="#000" stroke-width="0.3">3</text>
<polyline points="390.6,361.5 400.9,336.8 411.2,312.9 421.6,298.8 431.9,274.6 442.2,262.8 452.6,251.1" fill="none" stroke="#8c8c8c" stroke-width="1.4"/>
<polyline points="390.6,361.5 400.9,350.0 411.2,337.9 421.6,327.3 431.9,319.7 442.2,310.6 452.6,304.7" fill="none" stroke="#8c8c8c" stroke-width="1.4"/>
<rect x="386.7" y="358.0" width="7.9" height="7" fill="#0c6ef6"/>
<rect x="397.0" y="333.3" width="7.9" height="7" fill="#0c6ef6"/>
<rect x="407.3" y="309.4" width="7.9" height="7" fill="#0c6ef6"/>
<rect x="417.6" y="295.3" width="7.9" height="7" fill="#0c6ef6"/>
<rect x="428.0" y="271.1" width="7.9" height="7" fill="#0c6ef6"/>
<rect x="438.3" y="259.3" width="7.9" height="7" fill="#0c6ef6"/>
<rect x="448.6" y="247.6" width="7.9" height="7" fill="#0c6ef6"/>
<ellipse cx="390.6" cy="361.5" rx="4.4" ry="3.6" fill="#f44c1e"/>
<ellipse cx="400.9" cy="350.0" rx="4.4" ry="3.6" fill="#f44c1e"/>
<ellipse cx="411.2" cy="337.9" rx="4.4" ry="3.6" fill="#f44c1e"/>
<ellipse cx="421.6" cy="327.3" rx="4.4" ry="3.6" fill="#f44c1e"/>
<ellipse cx="431.9" cy="319.7" rx="4.4" ry="3.6" fill="#f44c1e"/>
<ellipse cx="442.2" cy="310.6" rx="4.4" ry="3.6" fill="#f44c1e"/>
<ellipse cx="452.6" cy="304.7" rx="4.4" ry="3.6" fill="#f44c1e"/>
<line x1="472.4" y1="368.8" x2="472.4" y2="365.8" stroke="#000" stroke-width="1.2"/>
<text x="472.4" y="380.6" font-family="Liberation Sans, Arial, sans-serif" font-weight="bold" font-size="10.5" text-anchor="middle" fill="#000" stroke="#000" stroke-width="0.3">0</text>
<line x1="482.7" y1="368.8" x2="482.7" y2="366.8" stroke="#000" stroke-width="1"/>
<line x1="493.0" y1="368.8" x2="493.0" y2="365.8" stroke="#000" stroke-width="1.2"/>
<text x="493.0" y="380.6" font-family="Liberation Sans, Arial, sans-serif" font-weight="bold" font-size="10.5" text-anchor="middle" fill="#000" stroke="#000" stroke-width="0.3">1</text>
<line x1="503.3" y1="368.8" x2="503.3" y2="366.8" stroke="#000" stroke-width="1"/>
<line x1="513.7" y1="368.8" x2="513.7" y2="365.8" stroke="#000" stroke-width="1.2"/>
<text x="513.7" y="380.6" font-family="Liberation Sans, Arial, sans-serif" font-weight="bold" font-size="10.5" text-anchor="middle" fill="#000" stroke="#000" stroke-width="0.3">2</text>
<line x1="524.0" y1="368.8" x2="524.0" y2="366.8" stroke="#000" stroke-width="1"/>
<line x1="534.4" y1="368.8" x2="534.4" y2="365.8" stroke="#000" stroke-width="1.2"/>
<text x="534.4" y="380.6" font-family="Liberation Sans, Arial, sans-serif" font-weight="bold" font-size="10.5" text-anchor="middle" fill="#000" stroke="#000" stroke-width="0.3">3</text>
<polyline points="472.4,361.5 482.7,342.1 493.0,325.3 503.4,307.9 513.7,290.8 524.0,273.4 534.4,257.0" fill="none" stroke="#8c8c8c" stroke-width="1.4"/>
<polyline points="472.4,361.5 482.7,351.8 493.0,343.2 503.4,335.3 513.7,326.2 524.0,318.5 534.4,310.8" fill="none" stroke="#8c8c8c" stroke-width="1.4"/>
<rect x="468.4" y="358.0" width="7.9" height="7" fill="#0c6ef6"/>
<rect x="478.8" y="338.6" width="7.9" height="7" fill="#0c6ef6"/>
<rect x="489.1" y="321.8" width="7.9" height="7" fill="#0c6ef6"/>
<rect x="499.4" y="304.4" width="7.9" height="7" fill="#0c6ef6"/>
<rect x="509.7" y="287.3" width="7.9" height="7" fill="#0c6ef6"/>
<rect x="520.1" y="269.9" width="7.9" height="7" fill="#0c6ef6"/>
<rect x="530.4" y="253.5" width="7.9" height="7" fill="#0c6ef6"/>
<ellipse cx="472.4" cy="361.5" rx="4.4" ry="3.6" fill="#f44c1e"/>
<ellipse cx="482.7" cy="351.8" rx="4.4" ry="3.6" fill="#f44c1e"/>
<ellipse cx="493.0" cy="343.2" rx="4.4" ry="3.6" fill="#f44c1e"/>
<ellipse cx="503.4" cy="335.3" rx="4.4" ry="3.6" fill="#f44c1e"/>
<ellipse cx="513.7" cy="326.2" rx="4.4" ry="3.6" fill="#f44c1e"/>
<ellipse cx="524.0" cy="318.5" rx="4.4" ry="3.6" fill="#f44c1e"/>
<ellipse cx="534.4" cy="310.8" rx="4.4" ry="3.6" fill="#f44c1e"/>
<line x1="554.7" y1="368.8" x2="554.7" y2="365.8" stroke="#000" stroke-width="1.2"/>
<text x="554.7" y="380.6" font-family="Liberation Sans, Arial, sans-serif" font-weight="bold" font-size="10.5" text-anchor="middle" fill="#000" stroke="#000" stroke-width="0.3">0</text>
<line x1="565.0" y1="368.8" x2="565.0" y2="366.8" stroke="#000" stroke-width="1"/>
<line x1="575.4" y1="368.8" x2="575.4" y2="365.8" stroke="#000" stroke-width="1.2"/>
<text x="575.4" y="380.6" font-family="Liberation Sans, Arial, sans-serif" font-weight="bold" font-size="10.5" text-anchor="middle" fill="#000" stroke="#000" stroke-width="0.3">1</text>
<line x1="585.6" y1="368.8" x2="585.6" y2="366.8" stroke="#000" stroke-width="1"/>
<line x1="596.0" y1="368.8" x2="596.0" y2="365.8" stroke="#000" stroke-width="1.2"/>
<text x="596.0" y="380.6" font-family="Liberation Sans, Arial, sans-serif" font-weight="bold" font-size="10.5" text-anchor="middle" fill="#000" stroke="#000" stroke-width="0.3">2</text>
<line x1="606.3" y1="368.8" x2="606.3" y2="366.8" stroke="#000" stroke-width="1"/>
<line x1="616.7" y1="368.8" x2="616.7" y2="365.8" stroke="#000" stroke-width="1.2"/>
<text x="616.7" y="380.6" font-family="Liberation Sans, Arial, sans-serif" font-weight="bold" font-size="10.5" text-anchor="middle" fill="#000" stroke="#000" stroke-width="0.3">3</text>
<polyline points="554.7,361.5 565.0,342.4 575.4,325.6 585.7,307.9 596.0,292.0 606.3,273.4 616.7,256.4" fill="none" stroke="#8c8c8c" stroke-width="1.4"/>
<polyline points="554.7,361.5 565.0,352.4 575.4,343.5 585.7,335.9 596.0,328.2 606.3,319.4 616.7,310.8" fill="none" stroke="#8c8c8c" stroke-width="1.4"/>
<rect x="550.8" y="358.0" width="7.9" height="7" fill="#0c6ef6"/>
<rect x="561.1" y="338.9" width="7.9" height="7" fill="#0c6ef6"/>
<rect x="571.4" y="322.1" width="7.9" height="7" fill="#0c6ef6"/>
<rect x="581.7" y="304.4" width="7.9" height="7" fill="#0c6ef6"/>
<rect x="592.0" y="288.5" width="7.9" height="7" fill="#0c6ef6"/>
<rect x="602.4" y="269.9" width="7.9" height="7" fill="#0c6ef6"/>
<rect x="612.7" y="252.9" width="7.9" height="7" fill="#0c6ef6"/>
<ellipse cx="554.7" cy="361.5" rx="4.4" ry="3.6" fill="#f44c1e"/>
<ellipse cx="565.0" cy="352.4" rx="4.4" ry="3.6" fill="#f44c1e"/>
<ellipse cx="575.4" cy="343.5" rx="4.4" ry="3.6" fill="#f44c1e"/>
<ellipse cx="585.7" cy="335.9" rx="4.4" ry="3.6" fill="#f44c1e"/>
<ellipse cx="596.0" cy="328.2" rx="4.4" ry="3.6" fill="#f44c1e"/>
<ellipse cx="606.3" cy="319.4" rx="4.4" ry="3.6" fill="#f44c1e"/>
<ellipse cx="616.7" cy="310.8" rx="4.4" ry="3.6" fill="#f44c1e"/>
<rect x="397.2" y="234.7" width="7.9" height="6.9" fill="#0c6ef6"/>
<text x="411.6" y="241.6" font-family="Liberation Sans, Arial, sans-serif" font-weight="bold" font-size="10.5" fill="#000" stroke="#000" stroke-width="0.3">H<tspan font-size="6.5" dx="1.2" dy="2.6">2</tspan></text>
<ellipse cx="401.3" cy="253.9" rx="4.3" ry="3.95" fill="#f44c1e"/>
<text x="411.6" y="257.8" font-family="Liberation Sans, Arial, sans-serif" font-weight="bold" font-size="10.5" fill="#000" stroke="#000" stroke-width="0.3">O<tspan font-size="6.5" dx="1.2" dy="2.6">2</tspan></text>
<text x="469.9" y="228.4" font-family="Liberation Sans, Arial, sans-serif" font-weight="bold" font-size="12" fill="#000" stroke="#000" stroke-width="0.3" textLength="146.5" lengthAdjust="spacingAndGlyphs">Overall water splitting</text>
<text x="465.75" y="253.5" font-family="Liberation Sans, Arial, sans-serif" font-weight="bold" font-size="8.8" fill="#000" stroke="#000" stroke-width="0.3" textLength="57.75" lengthAdjust="spacingAndGlyphs">Evacuation</text>
<text x="548" y="253.5" font-family="Liberation Sans, Arial, sans-serif" font-weight="bold" font-size="8.8" fill="#000" stroke="#000" stroke-width="0.3" textLength="57.75" lengthAdjust="spacingAndGlyphs">Evacuation</text>
<line x1="484.5" y1="256.3" x2="465.5" y2="280.5" stroke="#404858" stroke-width="1.2"/>
<path d="M463.0,283.1 L463.9,275.8 L468.1,279.1 Z" fill="#404858"/>
<line x1="567" y1="256.3" x2="548" y2="280.5" stroke="#404858" stroke-width="1.2"/>
<path d="M545.5,283.1 L546.4,275.8 L550.6,279.1 Z" fill="#404858"/>
<text x="481.5" y="389.9" font-family="Liberation Sans, Arial, sans-serif" font-weight="bold" font-size="9.6" fill="#000" stroke="#000" stroke-width="0.3" textLength="44.7" lengthAdjust="spacingAndGlyphs">Time (h)</text>
</svg>
</body></html>
